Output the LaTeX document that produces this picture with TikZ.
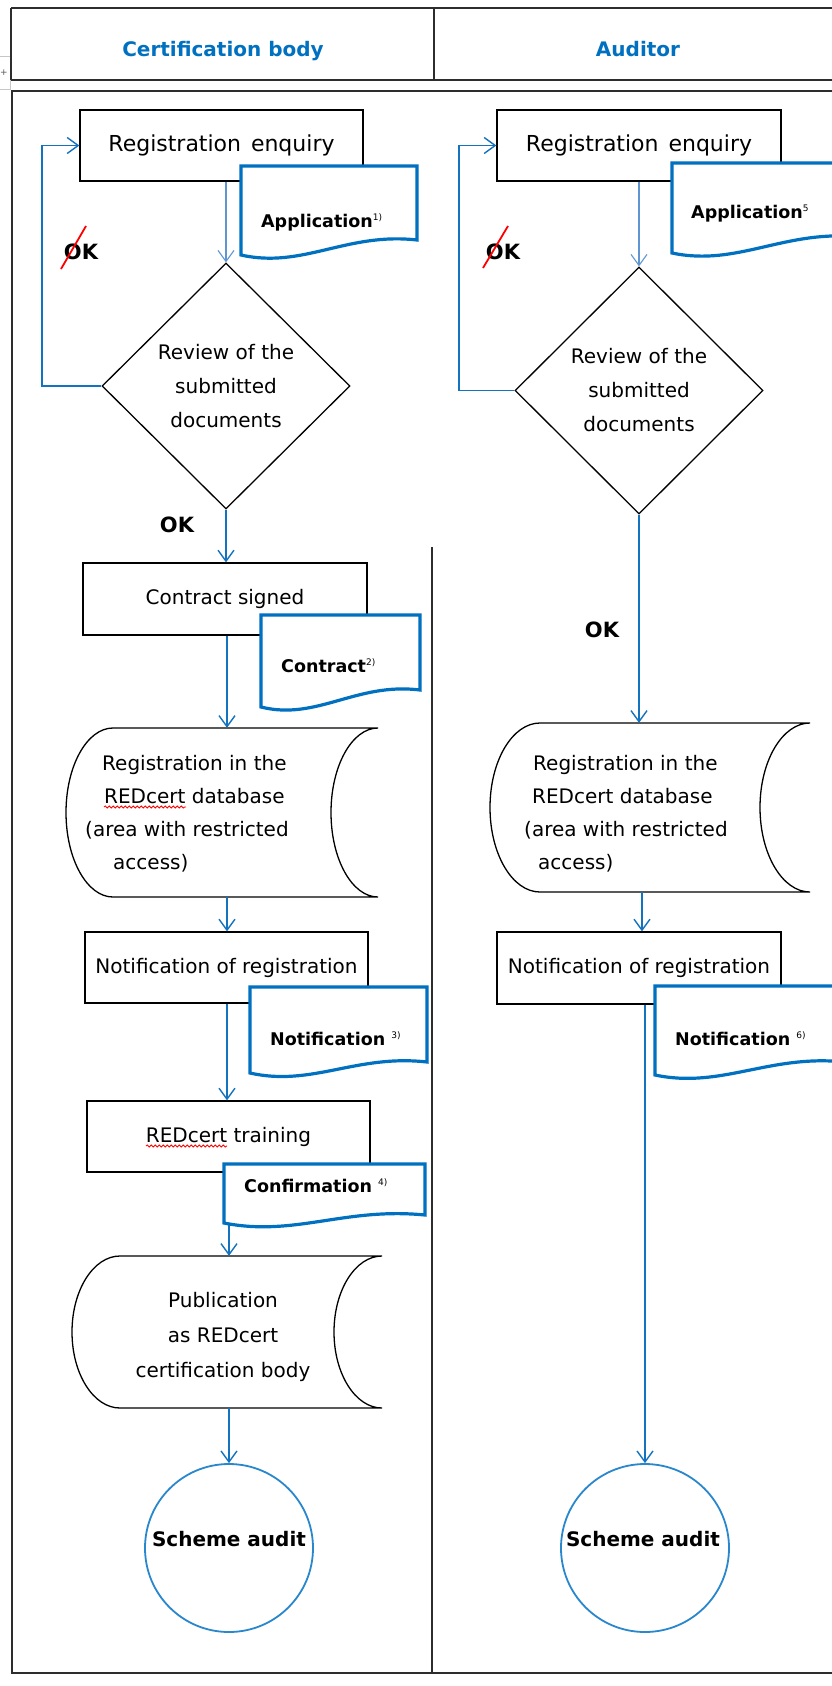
\documentclass[tikz,border=0pt]{standalone}
\usepackage{fontspec}
\setmainfont{DejaVu Sans}
\usetikzlibrary{arrows.meta,shapes.geometric,decorations.pathmorphing}
\definecolor{hdrblue}{RGB}{0,112,192}
\definecolor{docblue}{RGB}{0,112,192}
\definecolor{arrblue}{RGB}{20,115,190}
\definecolor{lightarr}{RGB}{95,150,210}
\definecolor{circblue}{RGB}{40,135,205}
\definecolor{tblgray}{RGB}{45,45,45}
\newcommand\sups[1]{\raisebox{7pt}{\fontsize{9}{9}\selectfont\mdseries #1}}
\newcommand\storedata[5]{%
  \pgfmathsetmacro\sdm{(#3+#4)/2}%
  \pgfmathsetmacro\sdh{(#4-#3)/2*0.552}%
  \pgfmathsetmacro\sdk{#5*0.552}%
  \draw[shapeline,fill=white] (#1,#3) -- (#2,#3)
    .. controls ({#2-\sdk},#3) and ({#2-#5},{\sdm-\sdh}) .. ({#2-#5},\sdm)
    .. controls ({#2-#5},{\sdm+\sdh}) and ({#2-\sdk},#4) .. (#2,#4)
    -- (#1,#4)
    .. controls ({#1-\sdk},#4) and ({#1-#5},{\sdm+\sdh}) .. ({#1-#5},\sdm)
    .. controls ({#1-#5},{\sdm-\sdh}) and ({#1-\sdk},#3) .. (#1,#3) -- cycle;}
\newcommand\docshape[5]{%
  \draw[docline] (#1,#3) -- (#2,#3) -- (#2,#4)
    .. controls ({#1+0.6*(#2-#1)},{#4-8}) and ({#1+0.35*(#2-#1)},{#5+14}) .. (#1,#5) -- cycle;}
\begin{document}
\begin{tikzpicture}[x=1pt,y=-1pt,
  tbl/.style={draw=tblgray,line width=1.8pt},
  shapeline/.style={draw=black,line width=1.3pt},
  procbox/.style={shapeline,fill=white,rectangle,inner sep=0pt,font=\fontsize{20}{24}\selectfont},
  decision/.style={shapeline,fill=white,diamond,inner sep=0pt,align=center,font=\fontsize{20}{34}\selectfont},
  framebox/.style={rectangle,draw=none,inner sep=0pt},
  arr/.style={draw=arrblue,line width=1.4pt,-{Straight Barb[length=11pt,width=16pt]}},
  arrlight/.style={arr,draw=lightarr,line width=1.1pt},
  docline/.style={draw=docblue,line width=3.2pt,fill=white},
  doclabel/.style={font=\fontsize{17.5}{20}\selectfont\bfseries,inner sep=0pt,anchor=base west},
  storetext/.style={inner sep=0pt,font=\fontsize{20}{33}\selectfont},
  hdr/.style={font=\fontsize{20}{24}\selectfont\bfseries,text=hdrblue,inner sep=0pt,anchor=base},
  oklabel/.style={font=\fontsize{21}{24}\selectfont\bfseries,inner sep=0pt},
  endcircle/.style={circle,draw=circblue,line width=1.8pt,fill=white,minimum size=168pt,inner sep=0pt},
  endtext/.style={font=\fontsize{20}{24}\selectfont\bfseries,inner sep=0pt},
  spell/.style={draw=red,line width=0.8pt,decorate,decoration={snake,amplitude=1.1pt,segment length=4pt}}
]
\useasboundingbox (0,0) rectangle (832,1686);
\clip (0,0) rectangle (832,1686);
\fill[white] (0,0) rectangle (832,1686);

% table handle
\draw[gray!45,line width=1pt] (-2,57) rectangle (10,89);
\node[inner sep=0pt,text=gray!70!black,font=\fontsize{9}{9}\selectfont] (handle) at (4,73) {+};

% table
\draw[tbl] (11,8) -- (850,8);
\draw[tbl] (11,8) -- (11,80);
\draw[tbl] (11,80) -- (850,80);
\draw[tbl] (434,8) -- (434,80);
\draw[tbl] (850,91) -- (12,91) -- (12,1673) -- (850,1673);
\draw[tbl] (432,547) -- (432,1673);

\node[hdr] (h1) at (223,57) {Certification body};
\node[hdr] (h2) at (638,57) {Auditor};

% ---------- left column ----------
\node[procbox,minimum width=283pt,minimum height=71pt,font=\fontsize{22}{24}\selectfont] (r1) at (221.5,145.5) {Registration\hspace{0.45em}enquiry};
\node[decision,minimum width=248pt,minimum height=246pt] (d1) at (226,386) {Review of the\\submitted\\documents};
\node[procbox,minimum width=284pt,minimum height=72pt] (cs) at (225,599) {Contract signed};
\storedata{113}{378}{728}{897}{47}
\node[framebox,minimum width=312pt,minimum height=169pt] (db1) at (222,812.5) {};
\node[storetext,align=left,anchor=west] (db1t) at (85,814) {\hspace*{17pt}Registration in the\\\hspace*{19pt}REDcert database\\(area with restricted\\\hspace*{28pt}access)};
\node[procbox,minimum width=283pt,minimum height=71pt] (n1) at (226.5,967.5) {Notification of registration};
\node[procbox,minimum width=283pt,minimum height=71pt] (t1) at (228.5,1136.5) {REDcert training};
\storedata{120}{382}{1256}{1408}{48}
\node[framebox,minimum width=310pt,minimum height=152pt] (pub) at (227,1332) {};
\node[storetext,align=center,font=\fontsize{20}{35}\selectfont] (pubt) at (223,1337) {Publication\\as REDcert\\certification body};
\node[endcircle] (c1) at (229,1548) {};
\node[endtext] (c1t) at (229,1539) {Scheme audit};

\coordinate (L) at (227,0);
\coordinate (lp1) at (42,0);

\draw[arrlight] (r1.south -| d1.north) -- (d1.north);
\draw[arr] (d1.west) -- (d1.west -| lp1) |- (r1.west);
\draw[arr] (d1.south) -- (d1.south |- cs.north);
\draw[arr] (cs.south -| L) -- (db1.north -| L);
\draw[arr] (db1.south -| L) -- (n1.north -| L);
\draw[arr] (n1.south -| L) -- (t1.north -| L);
\draw[arr] (t1.south -| c1.north) -- (pub.north -| c1.north);
\draw[arr] (pub.south -| c1.north) -- (c1.north);

% ---------- right column ----------
\node[procbox,minimum width=284pt,minimum height=71pt,font=\fontsize{22}{24}\selectfont] (r2) at (639,145.5) {Registration\hspace{0.45em}enquiry};
\node[decision,minimum width=248pt,minimum height=247pt] (d2) at (639,390.5) {Review of the\\submitted\\documents};
\storedata{540}{810}{723}{892}{50}
\node[framebox,minimum width=320pt,minimum height=169pt] (db2) at (650,807.5) {};
\node[storetext,align=left,anchor=west] (db2t) at (524,814) {\hspace*{9pt}Registration in the\\\hspace*{8pt}REDcert database\\(area with restricted\\\hspace*{14pt}access)};
\node[procbox,minimum width=284pt,minimum height=72pt] (n2) at (639,968) {Notification of registration};
\node[endcircle] (c2) at (645,1548) {};
\node[endtext] (c2t) at (643,1539) {Scheme audit};

\coordinate (lp2) at (459,0);
\coordinate (R) at (642,0);

\draw[arrlight] (r2.south) -- (d2.north);
\draw[arr] (d2.west) -- (d2.west -| lp2) |- (r2.west);
\draw[arr] (d2.south) -- (db2.north -| d2.south);
\draw[arr] (db2.south -| R) -- (n2.north -| R);
\draw[arr] (n2.south -| c2.north) -- (c2.north);

% ---------- documents ----------
\docshape{241}{417}{166}{240}{255}
\node[doclabel] (app1) at (261,227) {Application\sups{1)}};
\docshape{261}{420}{615}{690}{707}
\node[doclabel] (con1) at (281,672) {Contract\sups{2)}};
\docshape{250}{427}{987}{1062}{1073}
\node[doclabel] (not1) at (270,1045) {Notification \sups{3)}};
\docshape{224}{425}{1164}{1215}{1223}
\node[doclabel] (conf1) at (244,1192) {Confirmation \sups{4)}};
\docshape{672}{860}{163}{237}{253}
\node[doclabel] (app2) at (691,218) {Application\sups{5}};
\docshape{655}{845}{986}{1062}{1075}
\node[doclabel] (not2) at (675,1045) {Notification \sups{6)}};

% ---------- labels ----------
\node[oklabel] (nok1) at (81,252) {OK};
\draw[draw=red,line width=1.8pt] (61,269) -- (86,226);
\node[oklabel] (nok2) at (503,252) {OK};
\draw[draw=red,line width=1.8pt] (483,268) -- (508,226);
\node[oklabel] (ok1) at (177,525) {OK};
\node[oklabel] (ok2) at (602,630) {OK};

% spell-check marks
\draw[spell] (104,807) -- (186,807);
\draw[spell] (146,1146) -- (227,1146);
\end{tikzpicture}
\end{document}
